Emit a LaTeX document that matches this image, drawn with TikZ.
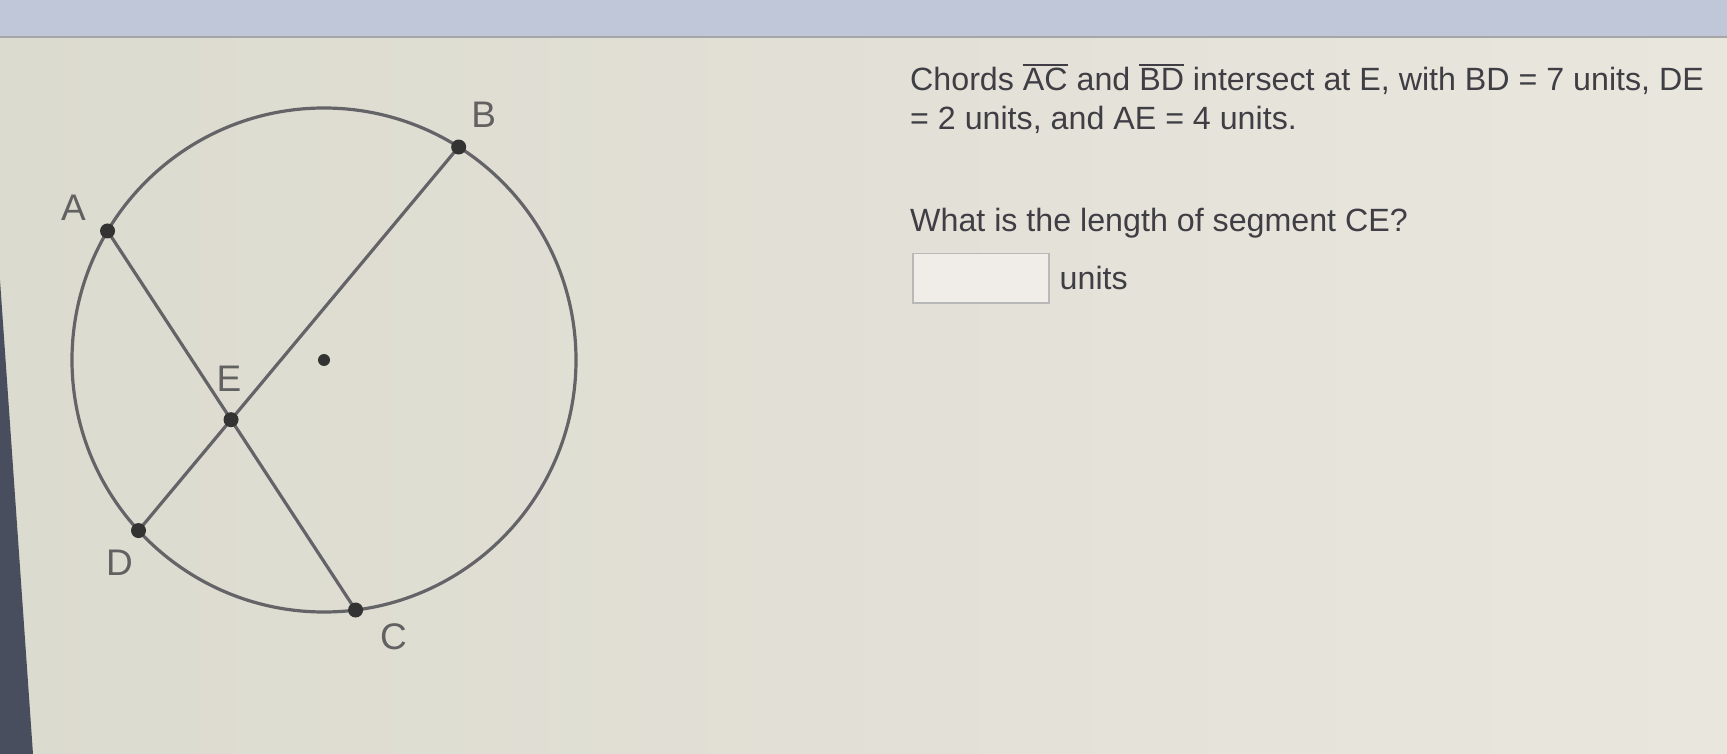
\documentclass[tikz,border=0pt]{standalone}
\usepackage{fontspec}
\setmainfont{Liberation Sans}
\usetikzlibrary{positioning,calc}
\definecolor{paperL}{RGB}{220,219,207}
\definecolor{paperR}{RGB}{233,230,222}
\definecolor{topbar}{RGB}{191,199,216}
\definecolor{ink}{RGB}{62,62,68}
\definecolor{rim}{RGB}{100,100,104}
\definecolor{edge}{RGB}{72,78,94}
\newcommand\seg[1]{\setbox0\hbox{#1}\rlap{\rule[\dimexpr\ht0+3pt\relax]{\wd0}{1.8pt}}\box0\relax}

\begin{document}
\begin{tikzpicture}[x=1pt,y=-1pt,
    dot/.style={circle,fill=black!80,inner sep=0pt,minimum size=15pt},
    lbl/.style={text=black!62,font=\fontsize{37}{44}\selectfont,inner sep=0pt},
    stem/.style={text=ink,font=\fontsize{32.2}{39}\selectfont,inner sep=0pt,anchor=base west},
    chord/.style={draw=rim,line width=3.2pt}]
    \useasboundingbox (0,0) rectangle (1727,754);
    \shade[left color=paperL,right color=paperR] (0,0) rectangle (1727,754);
    \fill[topbar] (0,0) rectangle (1727,37);
    \draw[black!35,line width=2pt] (0,37) -- (1727,37);
    \fill[edge] (0,280) -- (33,754) -- (0,754) -- cycle;

    \coordinate (O) at (324,360);
    \draw[rim,line width=3.2pt] (O) circle[radius=252pt];
    \coordinate (A) at ($(O)+(-149.2:252)$);
    \coordinate (B) at ($(O)+(-57.7:252)$);
    \coordinate (C) at ($(O)+(82.8:252)$);
    \coordinate (D) at ($(O)+(137.4:252)$);
    \coordinate (E) at (intersection of A--C and B--D);
    \draw[chord] (A) -- (C);
    \draw[chord] (B) -- (D);
    \foreach \p in {A,B,C,D,E}
        \node[dot] (dot\p) at (\p) {};
    \node[dot,minimum size=12pt] (ctr) at (O) {};
    \node[lbl] (labA) at ([shift={(-34,-23)}]A) {A};
    \node[lbl] (labB) at ([shift={(25,-32)}]B) {B};
    \node[lbl] (labC) at ([shift={(38,27)}]C) {C};
    \node[lbl] (labD) at ([shift={(-19,32)}]D) {D};
    \node[lbl] (labE) at ([shift={(-2,-41)}]E) {E};

    \node[stem] (line1) at (910,91) {Chords \seg{AC} and \seg{BD} intersect at E, with BD = 7 units, DE};
    \node[stem] (line2) at ([yshift=-39pt]line1.base west) {= 2 units, and AE = 4 units.};
    \node[stem] (ask) at ([yshift=-102pt]line2.base west) {What is the length of segment CE?};
    \node[draw=black!28,line width=1.5pt,fill=paperR!70!white,minimum width=136pt,minimum height=49pt,
        anchor=north west,inner sep=0pt] (ans) at (912,253) {};
    \node[text=ink,font=\fontsize{32.2}{39}\selectfont,inner sep=0pt,right=10pt of ans] (unit) {units};
\end{tikzpicture}
\end{document}
